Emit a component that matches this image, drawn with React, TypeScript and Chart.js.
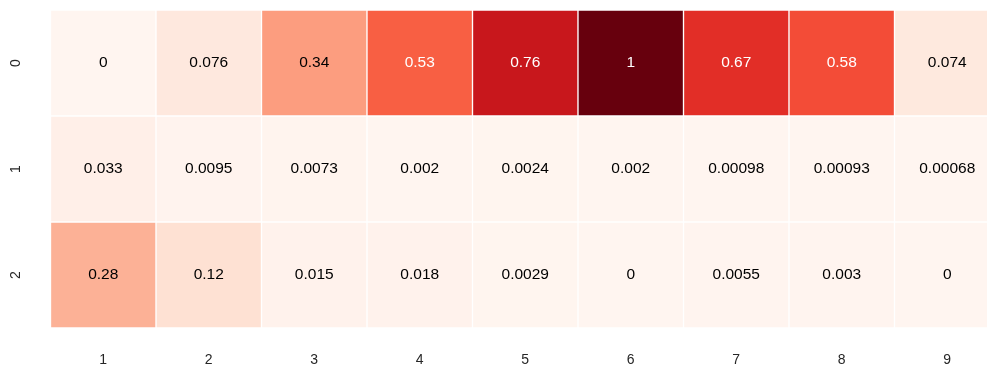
import React, { useEffect, useRef } from "react";
import { Chart, registerables } from "chart.js";

Chart.register(...registerables);

const columnLabels = ["1", "2", "3", "4", "5", "6", "7", "8", "9"];
const rowLabels = ["0", "1", "2"];
const row0 = [0, 0.076, 0.34, 0.53, 0.76, 1, 0.67, 0.58, 0.074];
const row1 = [0.033, 0.0095, 0.0073, 0.002, 0.0024, 0.002, 0.00098, 0.00093, 0.00068];
const row2 = [0.28, 0.12, 0.015, 0.018, 0.0029, 0, 0.0055, 0.003, 0];
const rows = [row0, row1, row2];

// ColorBrewer "Reds" sequential palette
const REDS = [
  [255, 245, 240],
  [254, 224, 210],
  [252, 187, 161],
  [252, 146, 114],
  [251, 106, 74],
  [239, 59, 44],
  [203, 24, 29],
  [165, 15, 21],
  [103, 0, 13],
];

function redsRgb(t: number): number[] {
  const v = Math.max(0, Math.min(1, t)) * (REDS.length - 1);
  const i = Math.min(Math.floor(v), REDS.length - 2);
  const f = v - i;
  const a = REDS[i];
  const b = REDS[i + 1];
  return [0, 1, 2].map((k) => Math.round(a[k] + (b[k] - a[k]) * f));
}

function redsColor(t: number): string {
  const [r, g, b] = redsRgb(t);
  return `rgb(${r},${g},${b})`;
}

function luminance(rgb: number[]): number {
  const lin = rgb.map((c) => {
    const s = c / 255;
    return s <= 0.03928 ? s / 12.92 : Math.pow((s + 0.055) / 1.055, 2.4);
  });
  return 0.2126 * lin[0] + 0.7152 * lin[1] + 0.0722 * lin[2];
}

const FONT = '"Liberation Sans", Arial, Helvetica, sans-serif';

const cellLabels = {
  id: "cellLabels",
  afterDatasetsDraw(chart: any) {
    const ctx = chart.ctx;
    ctx.save();
    ctx.font = `15.5px ${FONT}`;
    ctx.textAlign = "center";
    ctx.textBaseline = "middle";
    chart.data.datasets.forEach((ds: any, di: number) => {
      const meta = chart.getDatasetMeta(di);
      meta.data.forEach((el: any, i: number) => {
        const v = rows[di][i];
        const c = el.getCenterPoint();
        ctx.fillStyle = luminance(redsRgb(v)) > 0.408 ? "#000000" : "#ffffff";
        ctx.fillText(String(v), c.x, c.y);
      });
    });
    ctx.restore();
  },
};

const rowTicks = {
  id: "rowTicks",
  afterDraw(chart: any) {
    const ctx = chart.ctx;
    const y = chart.scales.y;
    ctx.save();
    ctx.font = `14px ${FONT}`;
    ctx.fillStyle = "#262626";
    ctx.textAlign = "center";
    ctx.textBaseline = "middle";
    rowLabels.forEach((lab, r) => {
      const py = y.getPixelForValue(r + 0.5);
      ctx.save();
      ctx.translate(16, py);
      ctx.rotate(-Math.PI / 2);
      ctx.fillText(lab, 0, 0);
      ctx.restore();
    });
    ctx.restore();
  },
};

export default function App() {
  const ref = useRef<HTMLCanvasElement | null>(null);

  useEffect(() => {
    document.body.style.margin = "0";
    if (!ref.current) return;
    const chart = new Chart(ref.current, {
      type: "bar",
      data: {
        labels: columnLabels,
        datasets: rows.map((vals, r) => ({
          label: rowLabels[r],
          data: vals.map(() => [r, r + 1]) as any,
          backgroundColor: vals.map((v) => redsColor(v)),
          borderColor: "#ffffff",
          borderWidth: 1,
          borderSkipped: false,
          barPercentage: 1,
          categoryPercentage: 1,
          grouped: false,
        })),
      },
      options: {
        animation: false,
        responsive: false,
        layout: { padding: { left: 50.5, right: 0, top: 10, bottom: 0 } },
        plugins: {
          legend: { display: false },
          tooltip: { enabled: false },
        },
        scales: {
          x: {
            grid: { display: false, drawTicks: false },
            border: { display: false },
            ticks: {
              color: "#262626",
              font: { size: 14, family: FONT },
              padding: 24,
              maxRotation: 0,
            },
            afterFit(scale: any) {
              scale.height = 41;
            },
          },
          y: {
            display: false,
            min: 0,
            max: 3,
            reverse: true,
          },
        },
      },
      plugins: [cellLabels, rowTicks],
    });
    return () => chart.destroy();
  }, []);

  return (
    <div style={{ width: 987, height: 369, overflow: "hidden" }}>
      <canvas ref={ref} width={1000} height={369} style={{ display: "block" }} />
    </div>
  );
}
